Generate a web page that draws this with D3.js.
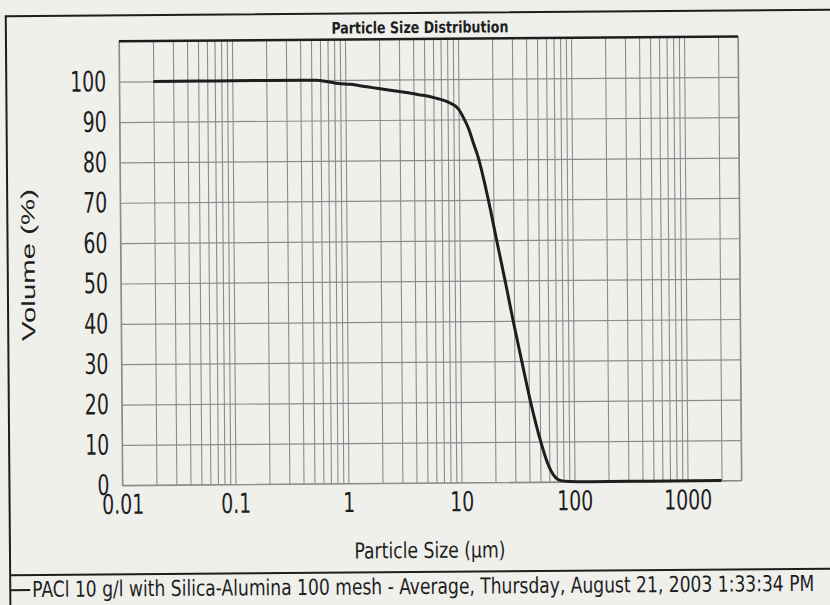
<!DOCTYPE html>
<html>
<head>
<meta charset="utf-8">
<script src="https://cdn.jsdelivr.net/npm/d3@7"></script>
<style>
  body { margin: 0; background: #efefec; }
  svg { display: block; }
</style>
</head>
<body>
<script>
// Particle size values (µm, Volume %)
const sizes = [0.02, 0.05, 0.1, 0.2, 0.4, 0.55, 0.7, 0.87, 1.1, 1.31, 1.6, 1.96, 2.4, 3, 3.61, 4.42,
  5.42, 6.5, 7.65, 8.5, 9.96, 11, 12.2, 13.5, 14.9, 17.1, 18.9, 21, 23.5, 25.7, 29.4, 34.8, 41.3,
  50.6, 57.9, 66.1, 75.9, 90, 138, 300, 700, 2000];
const volume = [100, 100, 100, 100, 100, 100, 99.6, 99.1, 98.9, 98.6, 98.2, 97.8, 97.4, 97, 96.7, 96.2,
  95.8, 95.2, 94.6, 94, 92.6, 90.5, 87.8, 84, 80.3, 73.2, 67.4, 60.8, 54, 48.5, 40, 30, 20,
  10, 4.7, 1.5, 0.3, 0.1, 0, 0, 0, 0];
const yTicks = [0, 10, 20, 30, 40, 50, 60, 70, 80, 90, 100];
const xTicks = [0.01, 0.1, 1, 10, 100, 1000];
const titleText = "Particle Size Distribution";
const xLabel = "Particle Size (µm)";
const yLabel = "Volume (%)";
const legendText = "PACl 10 g/l with Silica-Alumina 100 mesh - Average, Thursday, August 21, 2003 1:33:34 PM";

const W = 830, H = 605;
const narrow = "'Liberation Sans Narrow', 'Arial Narrow', 'DejaVu Sans Condensed', sans-serif";
const ink = "#1e1e1e", gridCol = "#8c8c8c";

const svg = d3.select("body").append("svg").attr("width", W).attr("height", H);
svg.append("rect").attr("width", W).attr("height", H).attr("fill", "#efefec");

// the scan is slightly tilted
const g = svg.append("g").attr("transform", "rotate(-0.45,415,300)");

// outer frame
g.append("path").attr("d", "M8,640 V13 H850")
  .attr("fill", "none").attr("stroke", ink).attr("stroke-width", 2);
g.append("line").attr("x1", 8).attr("x2", 850).attr("y1", 572).attr("y2", 572)
  .attr("stroke", ink).attr("stroke-width", 2);

// scales
const x = d3.scaleLog().domain([0.01, 3000]).range([121, 740]);
const y = d3.scaleLinear().domain([0, 110]).range([483, 39]);
const [x0, x1] = x.range();
const [y0, y1] = y.range();

// vertical grid (log minors)
g.append("g")
  .attr("transform", `translate(0,${y0})`)
  .call(d3.axisBottom(x).tickSize(-(y0 - y1)).tickFormat(""))
  .call(a => a.select(".domain").remove())
  .call(a => a.selectAll("line").attr("stroke", gridCol).attr("stroke-width", 1.1));

// horizontal grid
g.append("g")
  .attr("transform", `translate(${x0},0)`)
  .call(d3.axisLeft(y).tickValues(yTicks).tickSize(-(x1 - x0)).tickFormat(""))
  .call(a => a.select(".domain").remove())
  .call(a => a.selectAll("line").attr("stroke", gridCol).attr("stroke-width", 1.2));

// plot border
g.append("path").attr("d", `M${x0},${y1} V${y0} H${x1} V${y1}`)
  .attr("fill", "none").attr("stroke", gridCol).attr("stroke-width", 1.2);
g.append("line").attr("x1", x0).attr("x2", x1).attr("y1", y1).attr("y2", y1)
  .attr("stroke", ink).attr("stroke-width", 2.5);

// y axis labels
g.append("g")
  .attr("transform", `translate(${x0},0)`)
  .call(d3.axisLeft(y).tickValues(yTicks).tickSize(0).tickPadding(13))
  .call(a => a.select(".domain").remove())
  .call(a => a.selectAll("text")
    .attr("font-family", narrow).attr("font-size", 21).attr("fill", ink)
    .attr("transform", "scale(1,1.35)"));

// x axis labels
g.append("g")
  .attr("transform", `translate(0,${y0})`)
  .call(d3.axisBottom(x).tickValues(xTicks).tickSize(0).tickPadding(7).tickFormat(d => String(d)))
  .call(a => a.select(".domain").remove())
  .call(a => a.selectAll("text")
    .attr("font-family", narrow).attr("font-size", 21).attr("fill", ink)
    .attr("transform", "scale(1,1.3)"));

// curve
const data = sizes.map((s, i) => [s, volume[i]]);
g.append("path").datum(data)
  .attr("fill", "none").attr("stroke", ink).attr("stroke-width", 3)
  .attr("stroke-linejoin", "round")
  .attr("d", d3.line().x(d => x(d[0])).y(d => y(d[1])).curve(d3.curveMonotoneX));

// title
g.append("text").attr("x", 422).attr("y", 33)
  .attr("text-anchor", "middle")
  .attr("font-family", narrow).attr("font-weight", "bold").attr("font-size", 16)
  .attr("textLength", 177).attr("lengthAdjust", "spacingAndGlyphs")
  .attr("fill", ink).text(titleText);

// axis titles
g.append("text").attr("x", 428).attr("y", 558)
  .attr("text-anchor", "middle")
  .attr("font-family", narrow).attr("font-size", 22)
  .attr("textLength", 151).attr("lengthAdjust", "spacingAndGlyphs")
  .attr("fill", ink).text(xLabel);

g.append("text")
  .attr("transform", "translate(35,262) rotate(-90)")
  .attr("text-anchor", "middle")
  .attr("font-family", "'Liberation Sans', Arial, sans-serif").attr("font-size", 19)
  .attr("textLength", 152).attr("lengthAdjust", "spacingAndGlyphs")
  .attr("fill", ink).text(yLabel);

// legend
g.append("line").attr("x1", 8).attr("x2", 28).attr("y1", 587).attr("y2", 587)
  .attr("stroke", ink).attr("stroke-width", 2);
g.append("text").attr("x", 30).attr("y", 594)
  .attr("font-family", narrow).attr("font-size", 22)
  .attr("textLength", 782).attr("lengthAdjust", "spacingAndGlyphs")
  .attr("fill", ink).text(legendText);
</script>
</body>
</html>
